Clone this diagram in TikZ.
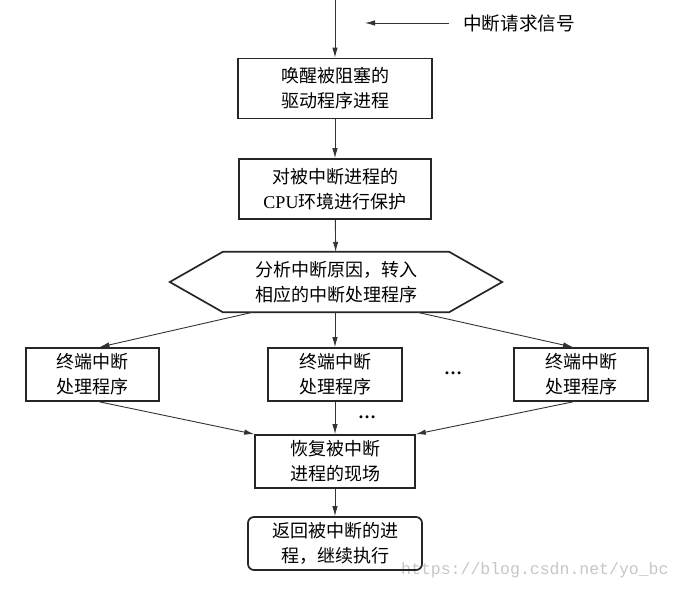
\documentclass[tikz,border=0pt]{standalone}
\usepackage{fontspec}
\setmainfont{Liberation Serif}
\newfontfamily\cjk{Noto Sans CJK SC}
\newfontfamily\urlfont{Liberation Mono}
\usetikzlibrary{arrows.meta,calc}
\tikzset{
  boxline/.style={draw=black!85, line width=1.7pt},
  procbox/.style={boxline, rectangle, inner sep=0pt, align=center,
    font=\cjk\fontsize{18pt}{25pt}\selectfont},
  arr/.style={draw=black!80, line width=0.9pt, -{Latex[length=10pt,width=5.5pt]}},
  plain/.style={inner sep=0pt, font=\cjk\fontsize{18pt}{25pt}\selectfont},
  dotsty/.style={inner sep=0pt, font=\rmfamily\bfseries\fontsize{18pt}{20pt}\selectfont}
}
\begin{document}
\begin{tikzpicture}[x=1pt,y=-1pt]
\useasboundingbox[fill=white] (0,0) rectangle (681,589);

% watermark url
\node[anchor=west, inner sep=0pt, font=\urlfont\fontsize{16.5pt}{18pt}\selectfont, text=black!22] (url) at (401,570) {https://blog.csdn.net/yo\_bc};

\coordinate (top) at (335,0);
\node[procbox, minimum width=194pt, minimum height=60pt] (b1) at (335,88.5) {唤醒被阻塞的\\驱动程序进程};
\node[plain, font=\cjk\fontsize{18.6pt}{25pt}\selectfont] (sig) at (519,23) {中断请求信号};
\coordinate (sigend) at (365,23);

\node[procbox, minimum width=192pt, minimum height=60pt] (b2) at (335,189) {对被中断进程的\\{\rmfamily CPU}环境进行保护};

\node[plain, align=center, minimum width=226pt, minimum height=60pt] (hexc) at (336,282) {分析中断原因，转入\\相应的中断处理程序};
\draw[boxline] (hexc.north west) -- (hexc.north east) -- ([xshift=53pt]hexc.east) -- (hexc.south east) -- (hexc.south west) -- ([xshift=-53pt]hexc.west) -- cycle;

\node[procbox, minimum width=133pt, minimum height=53pt] (t1) at (92.5,374.5) {终端中断\\处理程序};
\node[procbox, minimum width=134pt, minimum height=53pt] (t2) at (335,374.5) {终端中断\\处理程序};
\node[procbox, minimum width=134pt, minimum height=53pt] (t3) at (581,374.5) {终端中断\\处理程序};

\node[dotsty] (dots1) at (453,373) {…};
\node[dotsty] (dots2) at (367,417) {…};

\node[procbox, minimum width=160pt, minimum height=53pt] (rec) at (335,461.5) {恢复被中断\\进程的现场};
\node[procbox, rounded corners=6pt, minimum width=174pt, minimum height=53pt] (fin) at (335,543.5) {返回被中断的进\\程，继续执行};

% connectors
\draw[arr] (top) -- (b1);
\draw[arr] ([xshift=-14pt]sig.west) -- (sigend);
\draw[arr] (b1) -- (b2);
\draw[arr] (b2) -- (hexc);
\draw[arr] ($(hexc.south)+(-83,0)$) -- ($(t1.north)+(7,0)$);
\draw[arr] (hexc.south -| t2) -- (t2);
\draw[arr] ($(hexc.south)+(81,0)$) -- ($(t3.north)+(-8,0)$);
\draw[arr] ($(t1.south)+(7,0)$) -- (rec.north west);
\draw[arr] (t2) -- (rec);
\draw[arr] ($(t3.south)+(-8,0)$) -- (rec.north east);
\draw[arr] (rec) -- (fin);
\end{tikzpicture}
\end{document}
